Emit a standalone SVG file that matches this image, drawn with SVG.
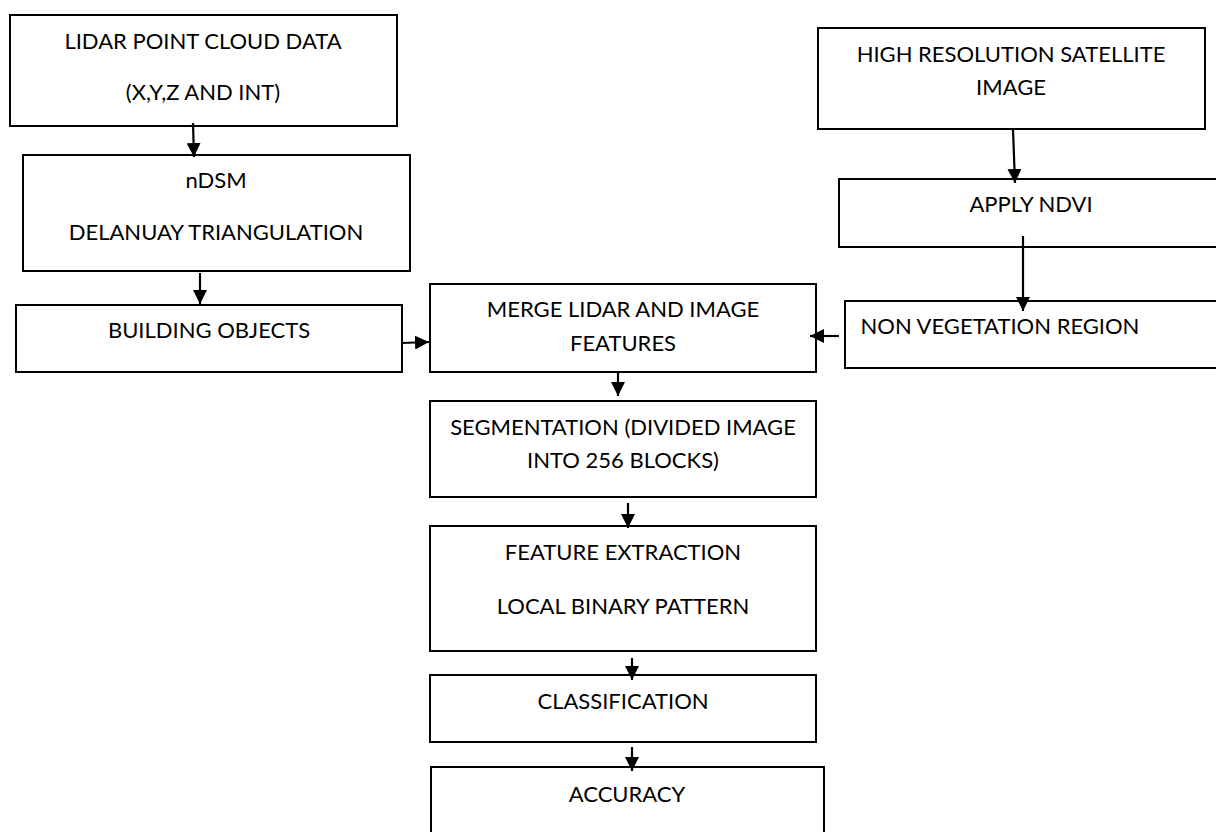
<svg xmlns="http://www.w3.org/2000/svg" width="1216" height="832" viewBox="0 0 1216 832">
<defs>
<style>
.box{fill:#fff;stroke:#000;stroke-width:2}
.t{font-family:Lato,"Liberation Sans",Arial,sans-serif;font-size:22px;fill:#000;text-anchor:middle}
.c{stroke:#000;stroke-width:2.2;fill:none;marker-end:url(#ah)}
</style>
<marker id="ah" viewBox="0 0 14 14" refX="14" refY="7" markerWidth="14" markerHeight="14" markerUnits="userSpaceOnUse" orient="auto">
<path d="M0,0 L14,7 L0,14 Z" fill="#000"/>
</marker>
</defs>
<rect width="1216" height="832" fill="#fff"/>
<g id="lidar"><rect class="box" x="10" y="15" width="387" height="111"/>
<text class="t" x="203" y="49">LIDAR POINT CLOUD DATA</text>
<text class="t" x="203" y="100">(X,Y,Z AND INT)</text></g>
<g id="ndsm"><rect class="box" x="23" y="155" width="387" height="116"/>
<text class="t" x="216" y="188">nDSM</text>
<text class="t" x="216" y="240">DELANUAY TRIANGULATION</text></g>
<g id="building"><rect class="box" x="16" y="305" width="386" height="67"/>
<text class="t" x="209" y="338">BUILDING OBJECTS</text></g>
<g id="satellite"><rect class="box" x="818" y="28" width="387" height="101"/>
<text class="t" x="1011" y="62">HIGH RESOLUTION SATELLITE</text>
<text class="t" x="1011" y="95">IMAGE</text></g>
<g id="ndvi"><rect class="box" x="839" y="179" width="390" height="68"/>
<text class="t" x="1031" y="212">APPLY NDVI</text></g>
<g id="nonveg"><rect class="box" x="845" y="301" width="390" height="67"/>
<text class="t" x="1000" y="334">NON VEGETATION REGION</text></g>
<g id="merge"><rect class="box" x="430" y="284" width="386" height="88"/>
<text class="t" x="623" y="317">MERGE LIDAR AND IMAGE</text>
<text class="t" x="623" y="351">FEATURES</text></g>
<g id="segmentation"><rect class="box" x="430" y="401" width="386" height="96"/>
<text class="t" x="623" y="435">SEGMENTATION (DIVIDED IMAGE</text>
<text class="t" x="623" y="468">INTO 256 BLOCKS)</text></g>
<g id="feature"><rect class="box" x="430" y="526" width="386" height="125"/>
<text class="t" x="623" y="560">FEATURE EXTRACTION</text>
<text class="t" x="623" y="614">LOCAL BINARY PATTERN</text></g>
<g id="classification"><rect class="box" x="430" y="675" width="386" height="67"/>
<text class="t" x="623" y="709">CLASSIFICATION</text></g>
<g id="accuracy"><rect class="box" x="431" y="767" width="393" height="80"/>
<text class="t" x="627" y="802">ACCURACY</text></g>
<g id="connectors">
<path class="c" d="M193,123 L194,157"/>
<path class="c" d="M200,273 L200,304"/>
<path class="c" d="M402,343 L429,342"/>
<path class="c" d="M839,336 L810,336"/>
<path class="c" d="M1013,130 L1015,183"/>
<path class="c" d="M1023,236 L1023,311"/>
<path class="c" d="M618,372 L618,396"/>
<path class="c" d="M628,503 L628,528"/>
<path class="c" d="M632,658 L632,680"/>
<path class="c" d="M632,747 L632,771"/>
</g>
</svg>
